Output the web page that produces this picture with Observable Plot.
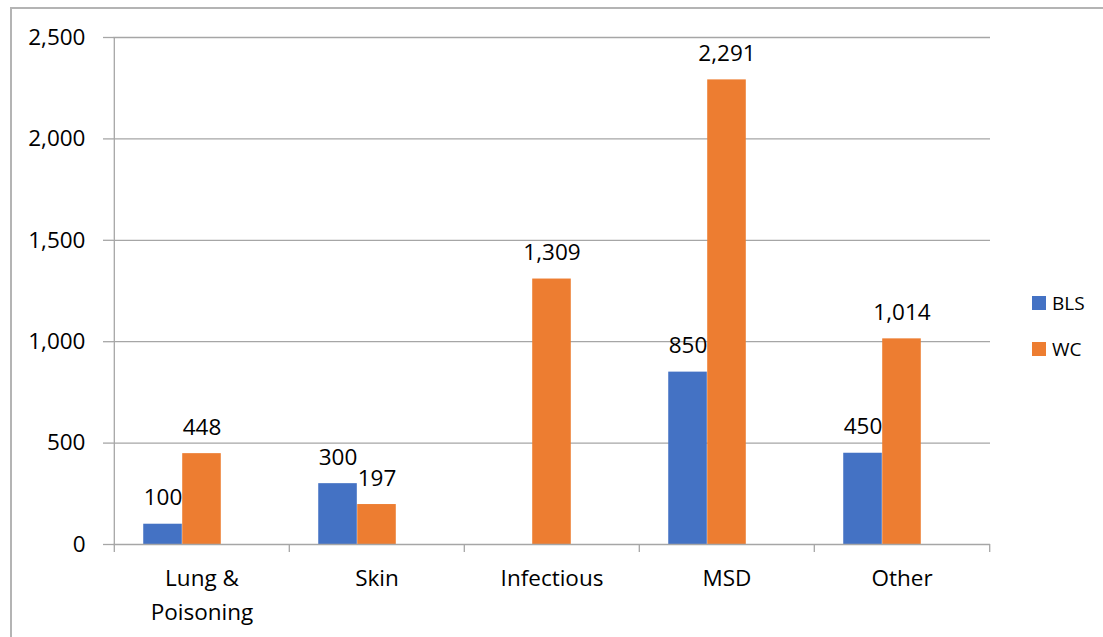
<!DOCTYPE html>
<html>
<head>
<meta charset="utf-8">
<script src="https://cdn.jsdelivr.net/npm/d3@7"></script>
<script src="https://cdn.jsdelivr.net/npm/@observablehq/plot@0.6"></script>
<style>
  html, body { margin: 0; padding: 0; background: #fff; overflow: hidden; }
  #wrap { position: relative; width: 1103px; height: 637px; font-family: "Open Sans", sans-serif; }
  #border { position: absolute; left: 10px; top: 7px; width: 1200px; height: 700px; border: 2px solid #b4b4b4; box-sizing: border-box; }
  #chart { position: absolute; left: 0; top: 0; }
  .leg { position: absolute; left: 1032px; display: flex; align-items: center; font-size: 19px; color: #000; }
  .sw { width: 14px; height: 14px; margin-right: 6px; }
</style>
</head>
<body>
<div id="wrap">
  <div id="border"></div>
  <div id="chart"></div>
  <div id="legend"></div>
</div>
<script>
const categories = ["Lung &\nPoisoning", "Skin", "Infectious", "MSD", "Other"];
const blsValues = [100, 300, null, 850, 450];
const wcValues = [448, 197, 1309, 2291, 1014];
const seriesNames = ["BLS", "WC"];
const seriesColors = ["#4472C4", "#ED7D31"];
const yTicks = [0, 500, 1000, 1500, 2000, 2500];

const width = 1103, height = 637;
const ml = 113, mr = 113, mt = 37, mb = 93;
const bw = (width - ml - mr) / categories.length;
const w = bw / 4.5;          // bar width (3 series slots, gap 75% each side)
const gap = 0.75 * w;
const grid = "#a6a6a6";

const bls = categories.map((c, i) => ({category: c, value: blsValues[i]})).filter(d => d.value != null);
const wc = categories.map((c, i) => ({category: c, value: wcValues[i]})).filter(d => d.value != null);
const fmt = d3.format(",");

const plot = Plot.plot({
  width, height,
  marginLeft: ml, marginRight: mr, marginTop: mt, marginBottom: mb,
  style: {fontFamily: "Open Sans, sans-serif", fontSize: "22.5px", color: "#000", background: "transparent"},
  x: {domain: categories, padding: 0, axis: null},
  y: {domain: [0, 2500], axis: null},
  marks: [
    Plot.gridY(yTicks.slice(1), {stroke: grid, strokeOpacity: 1, strokeWidth: 1.3}),
    Plot.barY(bls, {x: "category", y: "value", fill: seriesColors[0], insetLeft: gap, insetRight: bw - gap - w}),
    Plot.barY(wc, {x: "category", y: "value", fill: seriesColors[1], insetLeft: gap + w, insetRight: bw - gap - 2 * w}),
    Plot.ruleY([0], {stroke: grid, strokeWidth: 1.3}),
    Plot.ruleX([categories[0]], {x: d => d, dx: -bw / 2, stroke: grid, strokeWidth: 1.3}),
    Plot.axisY({ticks: yTicks, tickFormat: fmt, tickSize: 10, tickPadding: 18, stroke: grid, strokeWidth: 1.3, fill: "#000", fontSize: 22.5, label: null}),
    Plot.ruleX(categories, {x: d => d, dx: -bw / 2, y1: 0, y2: 0, insetBottom: -8, stroke: grid, strokeWidth: 1.3}),
    Plot.ruleX([categories[categories.length - 1]], {x: d => d, dx: bw / 2, y1: 0, y2: 0, insetBottom: -8, stroke: grid, strokeWidth: 1.3}),
    Plot.axisX({tickSize: 0, tickPadding: 18, lineHeight: 1.5, fill: "#000", fontSize: 22.5, label: null}),
    Plot.text(bls, {x: "category", y: "value", text: d => fmt(d.value), dx: -w, dy: -19, lineAnchor: "bottom", fill: "#000", fontSize: 22.5}),
    Plot.text(wc, {x: "category", y: "value", text: d => fmt(d.value), dx: 0, dy: -19, lineAnchor: "bottom", fill: "#000", fontSize: 22.5})
  ]
});
document.getElementById("chart").appendChild(plot);

const legend = document.getElementById("legend");
seriesNames.forEach((name, i) => {
  const row = document.createElement("div");
  row.className = "leg";
  row.style.top = (290 + i * 46) + "px";
  row.innerHTML = `<div class="sw" style="background:${seriesColors[i]}"></div><span>${name}</span>`;
  legend.appendChild(row);
});
</script>
</body>
</html>
